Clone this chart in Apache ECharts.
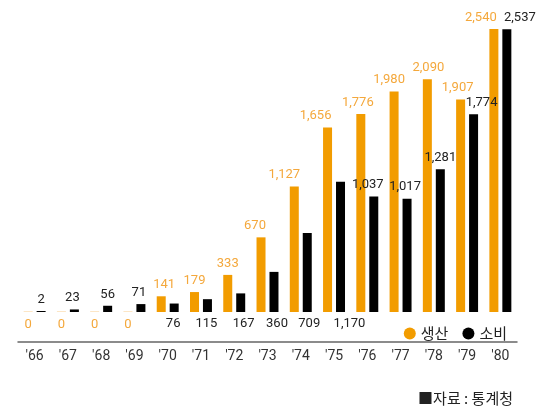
<!DOCTYPE html>
<html>
<head>
<meta charset="utf-8">
<script src="https://cdn.jsdelivr.net/npm/echarts@6/dist/echarts.min.js"></script>
<style>
  html, body { margin: 0; padding: 0; background: #fff; }
  #chart { width: 552px; height: 407px; }
</style>
</head>
<body>
<div id="chart"></div>
<script>
// Years and yearly figures (production vs. consumption)
var years = ["'66", "'67", "'68", "'69", "'70", "'71", "'72", "'73", "'74", "'75", "'76", "'77", "'78", "'79", "'80"];
var production = [0, 0, 0, 0, 141, 179, 333, 670, 1127, 1656, 1776, 1980, 2090, 1907, 2540];
var consumption = [2, 23, 56, 71, 76, 115, 167, 360, 709, 1170, 1037, 1017, 1281, 1774, 2537];
var seriesNames = ['생산', '소비'];
var sourceNote = '■자료 : 통계청';

// Small horizontal nudges so neighbouring value labels don't collide
var prodLabelDx = [0, 0, 0, 0, 3, 0, 0, -6, -10, -12, -3, -5, 1, -3, -13];
var consLabelDx = [0, -2, 0, -2, -1, -1, 3, 3, 2, 9, -6, -2, 0, 8, 13];
// Consumption labels for these years sit under the baseline
var consBelow = [4, 5, 6, 7, 8, 9];

var ORANGE = '#F29C00';
var ORANGE_TEXT = '#F4A83C';
var FONT = 'Roboto, "Noto Sans", sans-serif';
var KFONT = '"Noto Sans CJK KR", "Noto Sans", sans-serif';

function fmt(v) { return v.toLocaleString('en-US'); }

var prodData = production.map(function (v, i) {
  var below = v === 0;
  return {
    value: v,
    itemStyle: { color: v === 0 ? '#FCE6C6' : ORANGE },
    label: {
      position: below ? 'bottom' : 'top',
      distance: below ? 6 : 5,
      offset: [prodLabelDx[i], 0]
    }
  };
});

var consData = consumption.map(function (v, i) {
  var below = consBelow.indexOf(i) >= 0;
  return {
    value: v,
    label: {
      position: below ? 'bottom' : 'top',
      distance: 5,
      offset: [consLabelDx[i], 0]
    }
  };
});

var chart = echarts.init(document.getElementById('chart'), null, { renderer: 'canvas' });
chart.setOption({
  animation: false,
  backgroundColor: '#fff',
  grid: { left: 18, right: 35, top: 29, bottom: 95, containLabel: false },
  legend: {
    data: seriesNames,
    right: 40,
    top: 321,
    icon: 'circle',
    itemWidth: 12,
    itemHeight: 12,
    itemGap: 14,
    textStyle: { fontFamily: KFONT, fontSize: 15, color: '#222' }
  },
  xAxis: {
    type: 'category',
    data: years,
    offset: 30,
    axisLine: { show: true, onZero: false, lineStyle: { color: '#666', width: 1.5 } },
    axisTick: { show: false },
    axisLabel: { margin: 7, fontFamily: FONT, fontSize: 14, color: '#333' }
  },
  yAxis: {
    type: 'value',
    min: 0,
    max: 'dataMax',
    show: false,
    splitLine: { show: false }
  },
  series: [
    {
      name: seriesNames[0],
      type: 'bar',
      data: prodData,
      barWidth: 9,
      barGap: '44%',
      barMinHeight: 1,
      itemStyle: { color: ORANGE },
      label: {
        show: true,
        color: ORANGE_TEXT,
        fontFamily: FONT,
        fontSize: 13,
        formatter: function (p) { return fmt(p.value); }
      }
    },
    {
      name: seriesNames[1],
      type: 'bar',
      data: consData,
      barWidth: 9,
      barMinHeight: 1,
      itemStyle: { color: '#000' },
      label: {
        show: true,
        color: '#222',
        fontFamily: FONT,
        fontSize: 13,
        formatter: function (p) { return fmt(p.value); }
      }
    }
  ],
  graphic: [
    {
      type: 'text',
      right: 39,
      top: 391,
      style: { text: sourceNote, font: '15px ' + KFONT, fill: '#222' }
    }
  ]
});
</script>
</body>
</html>
